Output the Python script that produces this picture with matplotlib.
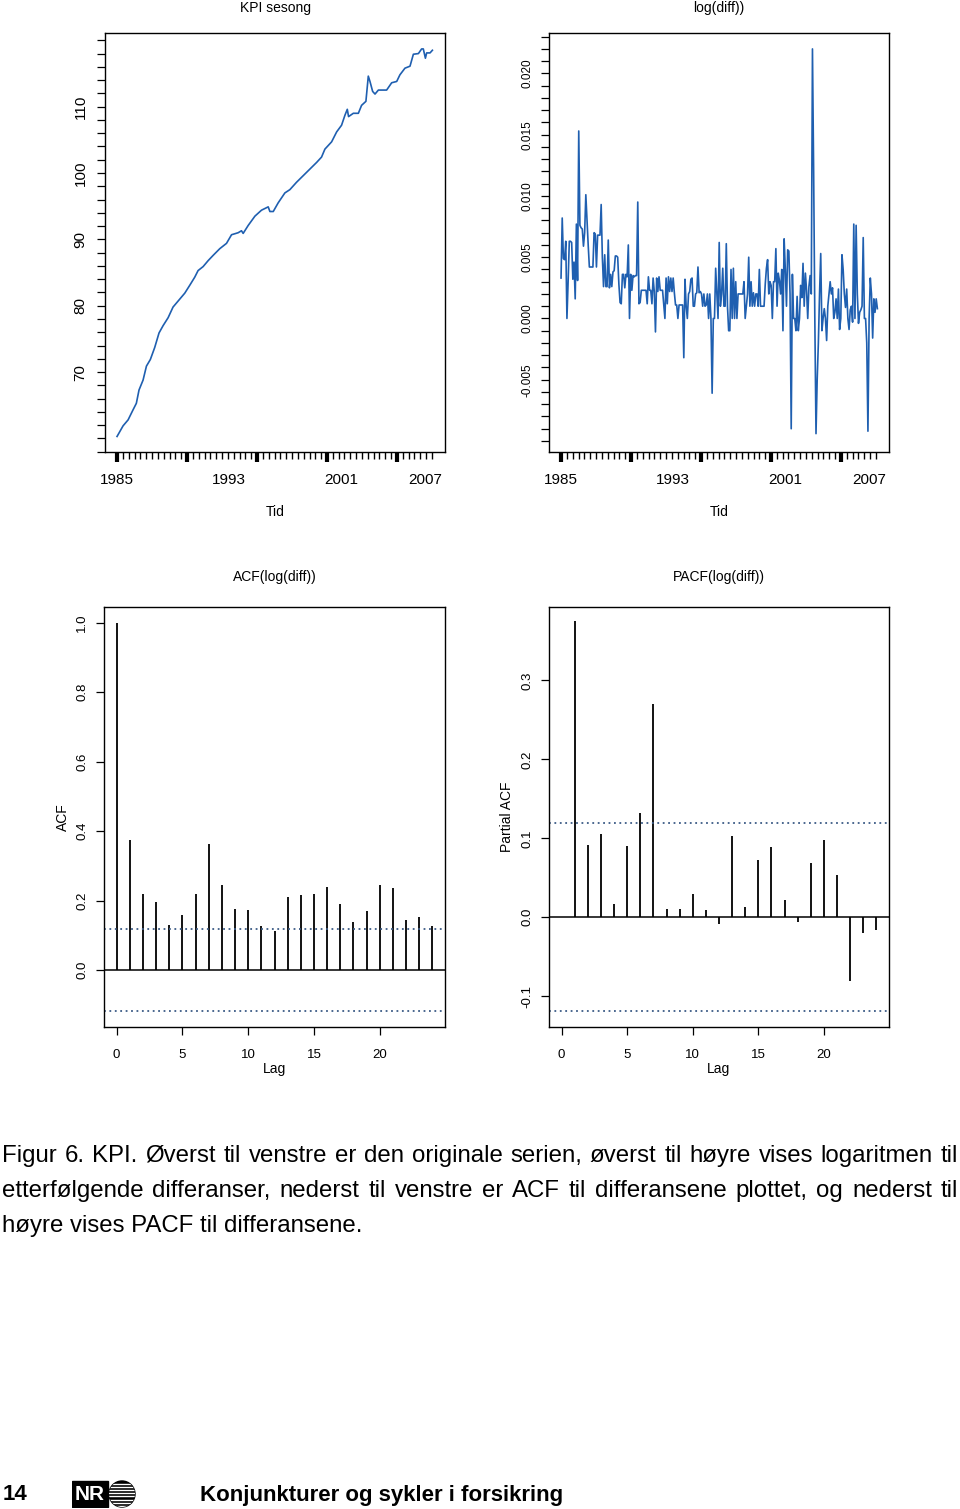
import numpy as np
import matplotlib.pyplot as plt
from matplotlib.patches import Rectangle, Circle

# figur i piksler
W, H = 960, 1509
plt.rcParams['font.family'] = ['Liberation Sans', 'DejaVu Sans']

# KPI sesong
kpi_aar = [1985.00, 1985.43, 1985.79, 1986.14, 1986.38, 1986.57, 1986.86, 1987.10, 1987.38, 1987.69,
           1988.00, 1988.29, 1988.65, 1989.00, 1989.48, 1989.84, 1990.20, 1990.55, 1990.79, 1991.15,
           1991.51, 1991.87, 1992.34, 1992.82, 1993.18, 1993.65, 1993.89, 1994.01, 1994.37, 1994.85,
           1995.32, 1995.80, 1995.92, 1996.16, 1996.51, 1996.99, 1997.35, 1997.82, 1998.30, 1998.78,
           1999.26, 1999.61, 1999.85, 2000.33, 2000.69, 2001.04, 2001.28, 2001.45, 2001.54, 2001.88,
           2002.24, 2002.47, 2002.78, 2002.95, 2003.07, 2003.26, 2003.43, 2003.67, 2004.26, 2004.62,
           2004.98, 2005.21, 2005.57, 2005.93, 2006.17, 2006.53, 2006.76, 2006.88, 2007.03, 2007.12,
           2007.36, 2007.53]
kpi_verdi = [60.3, 61.9, 62.8, 64.3, 65.3, 67.3, 68.8, 70.9, 71.9, 73.7,
             75.9, 77.0, 78.2, 79.8, 81.0, 81.9, 83.1, 84.3, 85.3, 85.9,
             86.8, 87.6, 88.6, 89.4, 90.7, 91.0, 91.3, 90.9, 92.1, 93.5,
             94.4, 94.9, 94.2, 94.2, 95.5, 97.0, 97.5, 98.6, 99.6, 100.6,
             101.6, 102.4, 103.6, 104.7, 106.2, 107.2, 108.7, 109.6, 108.5, 109.0,
             109.0, 110.2, 110.8, 114.6, 113.8, 112.3, 111.9, 112.5, 112.5, 113.6,
             113.8, 114.8, 115.8, 116.1, 117.9, 118.0, 118.7, 118.7, 117.3, 118.1,
             118.1, 118.5]

# log(diff)) maanedlig, i tusendeler
logdiff = [3.3, 8.2, 4.9, 4.8, 6.3, 0.0, 3.0, 6.3, 6.3, 6.2,
           3.2, 4.6, 1.6, 7.7, 3.1, 15.3, 7.6, 7.4, 7.3, 5.9,
           7.0, 10.1, 8.0, 6.0, 4.2, 4.2, 4.2, 4.2, 7.0, 6.9,
           4.2, 6.8, 6.8, 6.8, 9.3, 5.0, 2.6, 5.2, 2.6, 2.6,
           6.4, 2.5, 3.6, 2.6, 3.8, 3.9, 5.1, 5.1, 5.0, 2.8,
           1.3, 1.2, 3.6, 3.6, 2.5, 3.6, 3.4, 6.0, 0.0, 3.6,
           2.3, 3.5, 3.4, 3.5, 3.5, 9.5, 1.2, 1.3, 2.3, 2.3,
           2.3, 2.3, 2.3, 1.2, 3.4, 2.3, 2.3, 1.2, 3.3, 2.2,
           -1.1, 3.3, 2.2, 3.4, 2.3, 2.3, 2.3, 1.2, 0.0, 3.3,
           1.2, 3.4, 2.2, 3.3, 2.2, 3.3, 2.1, 1.1, 1.1, 0.0,
           1.1, 1.1, 1.1, 1.1, -3.2, 3.2, 1.0, 0.0, 2.0, 2.2,
           3.2, 3.3, 1.0, 1.0, 2.0, 2.1, 4.2, 2.1, 2.2, 2.0,
           1.0, 2.0, 1.0, 1.1, 2.0, 0.0, 2.0, 0.0, -6.1, 0.0,
           0.0, 4.1, 2.0, 0.0, 6.2, 1.0, 2.0, 4.1, 1.0, 1.0,
           6.1, 1.0, -1.0, -1.0, 4.0, 0.0, 4.1, 0.0, 3.0, 0.0,
           2.0, 2.0, 2.0, 2.0, 2.0, 3.0, 0.0, 1.0, 2.0, 5.0,
           1.0, 3.0, 1.0, 2.1, 1.0, 2.0, 2.0, 1.0, 4.0, 1.0,
           1.0, 1.0, 1.0, 2.8, 4.1, 4.8, 2.0, 3.0, 2.7, 0.0,
           3.0, 3.0, 5.7, 1.0, 3.7, 3.1, 2.0, 4.0, -1.0, 6.5,
           4.0, 1.0, 5.6, 5.5, 2.0, -9.0, 3.6, 0.0, 0.0, -1.0,
           1.8, -1.0, 0.0, 2.7, 1.7, 4.5, 1.0, 3.7, 2.3, 0.0,
           2.6, 3.5, 2.0, 22.0, 12.0, 0.0, -9.4, -5.0, -2.0, 2.0,
           5.3, -1.0, 0.0, 0.8, 0.0, -1.8, 1.0, 2.0, 3.0, 2.0,
           2.5, 0.0, 0.5, 1.6, 0.0, 2.4, -0.9, 0.0, 5.2, 4.0,
           2.0, 0.9, 2.4, 0.0, -0.9, 0.7, 1.0, -0.3, 7.7, 0.0,
           7.6, 2.0, -0.4, 0.5, 0.7, 1.0, 6.6, 0.0, 0.0, -2.0,
           -9.2, 0.0, 3.3, 2.0, -1.6, 1.6, 0.5, 1.6, 0.8]
logdiff_start, logdiff_slutt = 1985.0, 2007.6

# ACF og PACF
acf_lag = list(range(0, 25))
acf_verdi = [1.0, 0.375, 0.218, 0.197, 0.131, 0.159, 0.218, 0.364, 0.244, 0.176,
             0.172, 0.126, 0.112, 0.209, 0.215, 0.220, 0.239, 0.190, 0.139, 0.169,
             0.245, 0.235, 0.143, 0.154, 0.127]
pacf_lag = list(range(1, 25))
pacf_verdi = [0.375, 0.091, 0.106, 0.017, 0.090, 0.132, 0.270, 0.011, 0.010, 0.030,
              0.009, -0.008, 0.103, 0.013, 0.072, 0.089, 0.022, -0.006, 0.069, 0.098,
              0.054, -0.081, -0.020, -0.016]
ci = 0.119

blaa = '#1f5fb0'
prikk = '#3b5b86'


def px(x, y):
    return x / W, 1 - y / H


def akse(x0, y0, x1, y1):
    return fig.add_axes([x0 / W, 1 - y1 / H, (x1 - x0) / W, (y1 - y0) / H])


def stil(ax, ysize, ypad, xsize, xpad):
    for s in ax.spines.values():
        s.set_linewidth(1.0)
    ax.tick_params(axis='y', which='both', direction='out', length=5.5, width=0.9,
                   labelsize=ysize, pad=ypad, labelrotation=90)
    ax.tick_params(axis='x', which='both', direction='out', length=5.5, width=0.9,
                   labelsize=xsize, pad=xpad)
    for t in ax.get_yticklabels():
        t.set_va('center')


def tidsakse(ax):
    ax.set_xlim(1984.14, 2008.43)
    ax.set_xticks([1985, 1993, 2001, 2007])
    ax.set_xticklabels(['1985', '1993', '2001', '2007'])
    ax.set_xticks(1985 + np.arange(0, 55) * 5 / 12, minor=True)
    ax.tick_params(axis='x', which='major', length=0, pad=15, labelsize=11)
    ax.tick_params(axis='x', which='minor', length=5, width=1.0)
    sek = ax.secondary_xaxis('bottom')
    sek.set_xticks([1985, 1990, 1995, 2000, 2005])
    sek.set_xticklabels([])
    sek.tick_params(length=7, width=3.0, direction='out')
    sek.spines['bottom'].set_visible(False)


fig = plt.figure(figsize=(W / 100, H / 100), dpi=100)

# --- KPI sesong ---
ax1 = akse(105, 33, 445, 452)
ax1.plot(kpi_aar, kpi_verdi, color=blaa, lw=1.2)
ax1.set_ylim(57.96, 121.1)
ax1.set_yticks([70, 80, 90, 100, 110])
ax1.set_yticks(np.arange(58, 121, 2), minor=True)
stil(ax1, 11, 7, 11, 15)
tidsakse(ax1)

# --- log(diff)) ---
ax2 = akse(549, 33, 889, 452)
tid = np.linspace(logdiff_start, logdiff_slutt, len(logdiff))
ax2.plot(tid, np.array(logdiff) / 1000, color=blaa, lw=1.2)
ax2.set_ylim(-0.0109, 0.0233)
ax2.set_yticks([-0.005, 0.0, 0.005, 0.010, 0.015, 0.020])
ax2.set_yticklabels(['-0.005', '0.000', '0.005', '0.010', '0.015', '0.020'])
ax2.set_yticks(np.arange(-10, 24) / 1000, minor=True)
stil(ax2, 8.5, 6, 11, 15)
tidsakse(ax2)

# --- ACF ---
ax3 = akse(104, 607, 445, 1027)
ax3.vlines(acf_lag, 0, acf_verdi, color='black', lw=1.3)
ax3.axhline(0, color='black', lw=1.1)
ax3.axhline(ci, color=prikk, lw=1.3, ls=(0, (1, 2)))
ax3.axhline(-ci, color=prikk, lw=1.3, ls=(0, (1, 2)))
ax3.set_xlim(-0.96, 24.96)
ax3.set_ylim(-0.164, 1.045)
ax3.set_xticks([0, 5, 10, 15, 20])
ax3.set_yticks([0.0, 0.2, 0.4, 0.6, 0.8, 1.0])
ax3.set_yticklabels(['0.0', '0.2', '0.4', '0.6', '0.8', '1.0'])
stil(ax3, 9.5, 6, 9.5, 10)

# --- PACF ---
ax4 = akse(549, 607, 889, 1027)
ax4.vlines(pacf_lag, 0, pacf_verdi, color='black', lw=1.3)
ax4.axhline(0, color='black', lw=1.1)
ax4.axhline(ci, color=prikk, lw=1.3, ls=(0, (1, 2)))
ax4.axhline(-ci, color=prikk, lw=1.3, ls=(0, (1, 2)))
ax4.set_xlim(-0.96, 24.96)
ax4.set_ylim(-0.139, 0.393)
ax4.set_xticks([0, 5, 10, 15, 20])
ax4.set_yticks([-0.1, 0.0, 0.1, 0.2, 0.3])
ax4.set_yticklabels(['-0.1', '0.0', '0.1', '0.2', '0.3'])
stil(ax4, 9.5, 6, 9.5, 10)

# titler og aksetitler
fig.text(*px(275, 8), 'KPI sesong', fontsize=10, ha='center', va='center')
fig.text(*px(719, 8), 'log(diff))', fontsize=10, ha='center', va='center')
fig.text(*px(275, 512), 'Tid', fontsize=10, ha='center', va='center')
fig.text(*px(719, 512), 'Tid', fontsize=10, ha='center', va='center')
fig.text(*px(275, 577), 'ACF(log(diff))', fontsize=10, ha='center', va='center')
fig.text(*px(719, 577), 'PACF(log(diff))', fontsize=10, ha='center', va='center')
fig.text(*px(275, 1069), 'Lag', fontsize=10, ha='center', va='center')
fig.text(*px(719, 1069), 'Lag', fontsize=10, ha='center', va='center')
fig.text(*px(63, 817), 'ACF', fontsize=10, ha='center', va='center', rotation=90)
fig.text(*px(507, 817), 'Partial ACF', fontsize=10, ha='center', va='center', rotation=90)

# bildetekst, blokkjustert (plassert etter grunnlinje)
fs = 17.3
renderer = fig.canvas.get_renderer()


def juster(linje, y, x0=2, x1=958):
    ordene = linje.split(' ')
    bredder = []
    for o in ordene:
        t = fig.text(0, 0, o, fontsize=fs)
        bredder.append(t.get_window_extent(renderer).width)
        t.remove()
    gap = (x1 - x0 - sum(bredder)) / (len(ordene) - 1)
    x = x0
    for o, b in zip(ordene, bredder):
        fig.text(*px(x, y), o, fontsize=fs, va='baseline')
        x += b + gap


juster('Figur 6. KPI. Øverst til venstre er den originale serien, øverst til høyre vises logaritmen til', 1162)
juster('etterfølgende differanser, nederst til venstre er ACF til differansene plottet, og nederst til', 1197)
fig.text(*px(2, 1232), 'høyre vises PACF til differansene.', fontsize=fs, va='baseline')

# bunntekst
fig.text(*px(3, 1495), '14', fontsize=16, fontweight='bold', va='center')
fig.text(*px(200, 1495), 'Konjunkturer og sykler i forsikring', fontsize=16,
         fontweight='bold', va='center')

# NR-logo
lg = akse(72, 1480, 137, 1508)
lg.set_xlim(72, 137)
lg.set_ylim(1508, 1480)
lg.axis('off')
lg.add_patch(Rectangle((72, 1481), 36, 26, color='black'))
lg.text(90, 1494.5, 'NR', color='white', fontsize=15, fontweight='bold', ha='center', va='center')
sirkel = Circle((122, 1494), 13, color='black')
lg.add_patch(sirkel)
for yy in np.arange(1483.5, 1506, 3.2):
    ln, = lg.plot([108, 136], [yy, yy], color='white', lw=1.0)
    ln.set_clip_path(sirkel)

fig.savefig('out.png', dpi=100)
